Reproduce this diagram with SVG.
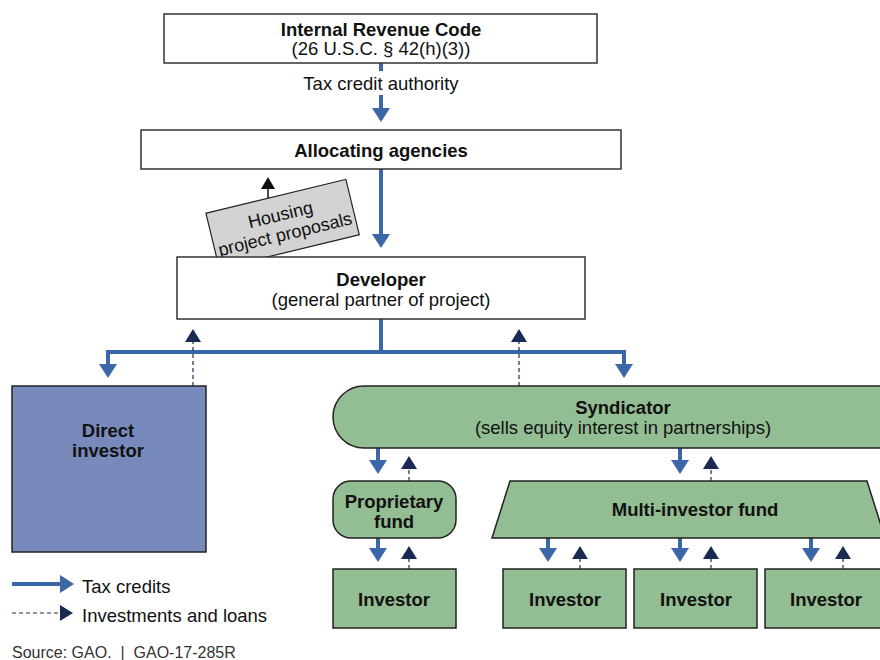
<svg xmlns="http://www.w3.org/2000/svg" width="880" height="660" viewBox="0 0 880 660">
<style>
text{font-family:"Liberation Sans",Arial,sans-serif;font-size:18.5px;fill:#111;text-anchor:middle}
.b{font-weight:bold}
.box{fill:#fff;stroke:#333;stroke-width:1.5}
.g{fill:#93bd92;stroke:#222;stroke-width:1.5}
.tc{fill:none;stroke:#3b67a8;stroke-width:4}
.tca{fill:none;stroke:#3b67a8;stroke-width:4;marker-end:url(#mb)}
.inv{fill:none;stroke:#1b2a52;stroke-width:1.2;stroke-dasharray:4 3;marker-end:url(#mn)}
</style>
<defs>
<marker id="mb" markerUnits="userSpaceOnUse" markerWidth="16" markerHeight="18" refX="4" refY="9" orient="auto" viewBox="0 0 16 18">
<path d="M0,0 L14,9 L0,18 z" fill="#3b67a8"/>
</marker>
<marker id="mn" markerUnits="userSpaceOnUse" markerWidth="14" markerHeight="16" refX="2" refY="8" orient="auto" viewBox="0 0 14 16">
<path d="M0,0 L13,8 L0,16 z" fill="#1b2a52"/>
</marker>
<marker id="mk" markerUnits="userSpaceOnUse" markerWidth="14" markerHeight="14" refX="2" refY="7" orient="auto" viewBox="0 0 14 14">
<path d="M0,0 L12,7 L0,14 z" fill="#111"/>
</marker>
</defs>
<rect width="880" height="660" fill="#fff"/>

<g id="housing">
<line x1="268" y1="200" x2="268" y2="187" stroke="#111" stroke-width="1.5" marker-end="url(#mk)"/>
<g transform="translate(282.5,223.5) rotate(-13.6)">
<rect x="-72" y="-28" width="144" height="57" fill="#d3d3d3" stroke="#222" stroke-width="1.2"/>
<text x="0" y="-3" style="font-size:18px">Housing</text>
<text x="0" y="17" style="font-size:18px">project proposals</text>
</g>
</g>

<g id="connectors">
<path class="tc" d="M381,63 V71"/>
<path class="tca" d="M381,95 V112"/>
<path class="tca" d="M381,169 V238"/>
<path class="tc" d="M381,319 V352 M106,352 H626"/>
<path class="tca" d="M108,350 V368"/>
<path class="tca" d="M624,350 V368"/>
<path class="inv" d="M193,386 V340"/>
<path class="inv" d="M519,386 V340"/>
<path class="tca" d="M378,448 V464"/>
<path class="inv" d="M409,481 V467"/>
<path class="tca" d="M680,448 V464"/>
<path class="inv" d="M711,481 V467"/>
<path class="tca" d="M378,538 V552"/>
<path class="inv" d="M409,569 V557"/>
<path class="tca" d="M548,538 V552"/>
<path class="inv" d="M580,569 V557"/>
<path class="tca" d="M680,538 V552"/>
<path class="inv" d="M711,569 V557"/>
<path class="tca" d="M811,538 V552"/>
<path class="inv" d="M843,569 V557"/>
</g>

<g id="irc">
<rect class="box" x="164" y="14" width="433" height="49"/>
<text class="b" x="381" y="36">Internal Revenue Code</text>
<text x="381" y="55">(26 U.S.C. § 42(h)(3))</text>
</g>
<text x="381" y="90">Tax credit authority</text>

<g id="allocating">
<rect class="box" x="141" y="130" width="480" height="39"/>
<text class="b" x="381" y="157">Allocating agencies</text>
</g>

<g id="developer">
<rect class="box" x="177" y="257" width="408" height="62"/>
<text class="b" x="381" y="286">Developer</text>
<text x="381" y="306">(general partner of project)</text>
</g>

<g id="direct">
<rect x="12" y="386" width="194" height="166" fill="#7889bb" stroke="#222" stroke-width="1.5"/>
<text class="b" x="108" y="437">Direct</text>
<text class="b" x="108" y="457">investor</text>
</g>

<g id="syndicator">
<rect class="g" x="333" y="386" width="578" height="62" rx="31"/>
<text class="b" x="623" y="414">Syndicator</text>
<text x="623" y="434">(sells equity interest in partnerships)</text>
</g>

<g id="proprietary">
<rect class="g" x="333" y="481" width="123" height="57" rx="18"/>
<text class="b" x="394" y="508">Proprietary</text>
<text class="b" x="394" y="528">fund</text>
</g>

<g id="multi">
<polygon class="g" points="510,481 867,481 885,538 492,538"/>
<text class="b" x="695" y="516">Multi-investor fund</text>
</g>

<g id="inv1"><rect class="g" x="333" y="569" width="123" height="59"/><text class="b" x="394" y="606">Investor</text></g>
<g id="inv2"><rect class="g" x="503" y="569" width="123" height="59"/><text class="b" x="565" y="606">Investor</text></g>
<g id="inv3"><rect class="g" x="634" y="569" width="123" height="59"/><text class="b" x="696" y="606">Investor</text></g>
<g id="inv4"><rect class="g" x="765" y="569" width="123" height="59"/><text class="b" x="826" y="606">Investor</text></g>

<g id="legend">
<path class="tca" d="M12,584 H64"/>
<text x="82" y="593" style="text-anchor:start">Tax credits</text>
<path class="inv" d="M12,613 H62"/>
<text x="82" y="622" style="text-anchor:start">Investments and loans</text>
</g>
<text x="12" y="658" style="text-anchor:start;font-size:16px;fill:#333">Source: GAO.&#160;&#160;|&#160;&#160;GAO-17-285R</text>
</svg>
